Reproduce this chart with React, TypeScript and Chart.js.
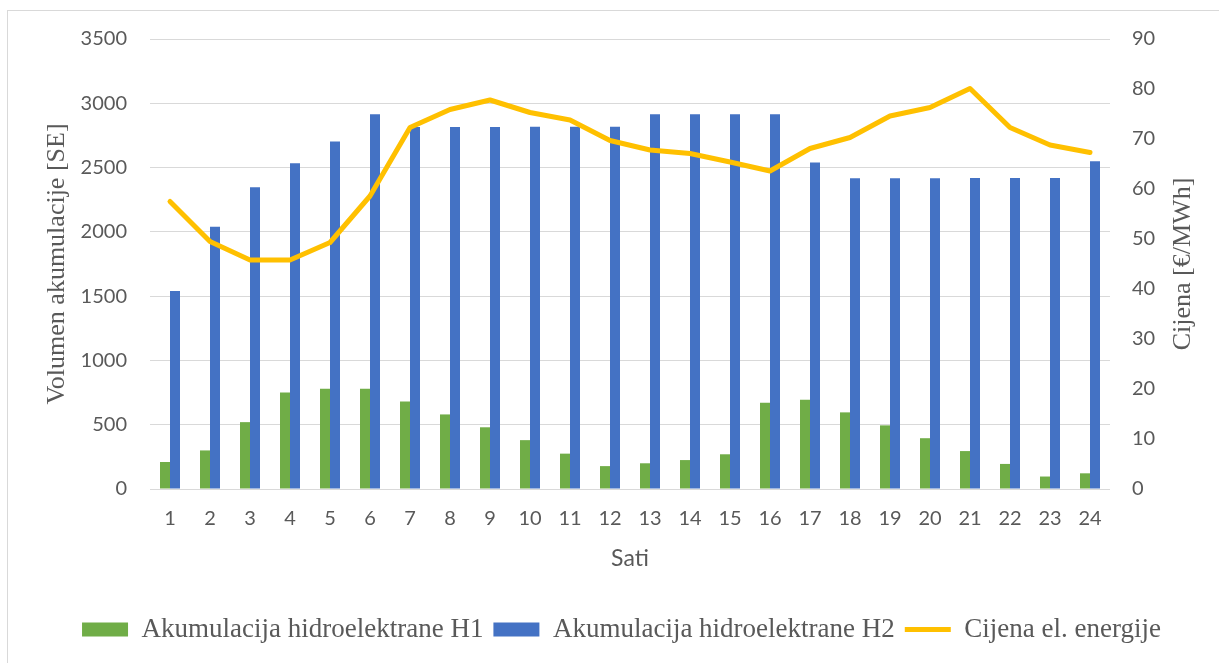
import React, { useEffect, useRef } from "react";
import { Chart, registerables } from "chart.js";

Chart.register(...registerables);

const hours = ["1","2","3","4","5","6","7","8","9","10","11","12","13","14","15","16","17","18","19","20","21","22","23","24"];
const akumulacijaH1 = [210, 300, 520, 750, 780, 780, 680, 580, 480, 380, 275, 178, 200, 225, 270, 670, 695, 596, 495, 395, 295, 195, 97, 122];
const akumulacijaH2 = [1540, 2040, 2346, 2533, 2702, 2914, 2816, 2816, 2816, 2818, 2818, 2818, 2914, 2914, 2914, 2914, 2540, 2416, 2416, 2416, 2419, 2419, 2419, 2549];
const cijena = [57.5, 49.5, 45.8, 45.8, 49.3, 58.6, 72.3, 75.9, 77.8, 75.3, 73.8, 69.7, 67.8, 67.1, 65.4, 63.6, 68.1, 70.3, 74.6, 76.3, 80.1, 72.3, 68.8, 67.3];

const seriesNames = ["Akumulacija hidroelektrane H1", "Akumulacija hidroelektrane H2", "Cijena el. energije"];
const axisTitles = { left: "Volumen akumulacije [SE]", right: "Cijena [€/MWh]", x: "Sati" };

const GREEN = "#70AD47";
const BLUE = "#4472C4";
const YELLOW = "#FFC000";
const GRID = "#D9D9D9";
const TEXT = "#595959";
const SANS = "Lato, 'Open Sans', sans-serif";
const SERIF = "'Liberation Serif', 'DejaVu Serif', serif";

const rightTitlePlugin = {
  id: "rightTitle",
  afterDraw(chart: any) {
    const { ctx, chartArea } = chart;
    ctx.save();
    ctx.font = `26px ${SERIF}`;
    ctx.fillStyle = TEXT;
    ctx.textAlign = "center";
    ctx.textBaseline = "middle";
    ctx.translate(1175, (chartArea.top + chartArea.bottom) / 2);
    ctx.rotate(-Math.PI / 2);
    ctx.fillText(axisTitles.right, 0, 0);
    ctx.restore();
  },
};

export default function App() {
  const ref = useRef<HTMLCanvasElement | null>(null);

  useEffect(() => {
    if (!ref.current) return;
    const chart = new Chart(ref.current, {
      type: "bar",
      data: {
        labels: hours,
        datasets: [
          {
            type: "bar",
            label: seriesNames[0],
            data: akumulacijaH1,
            backgroundColor: GREEN,
            borderWidth: 0,
            yAxisID: "y",
            categoryPercentage: 0.5,
            barPercentage: 1,
            pointStyle: "rect",
            order: 1,
          },
          {
            type: "bar",
            label: seriesNames[1],
            data: akumulacijaH2,
            backgroundColor: BLUE,
            borderWidth: 0,
            yAxisID: "y",
            categoryPercentage: 0.5,
            barPercentage: 1,
            pointStyle: "rect",
            order: 1,
          },
          {
            type: "line",
            label: seriesNames[2],
            data: cijena,
            borderColor: YELLOW,
            backgroundColor: YELLOW,
            borderWidth: 5,
            borderCapStyle: "round",
            borderJoinStyle: "round",
            pointRadius: 0,
            pointStyle: "line",
            tension: 0,
            yAxisID: "y1",
            order: 0,
          },
        ],
      } as any,
      options: {
        animation: false,
        responsive: false,
        layout: { padding: { top: 28, left: 16, right: 0, bottom: 10 } },
        plugins: {
          tooltip: { enabled: false },
          legend: {
            position: "bottom",
            labels: {
              usePointStyle: true,
              pointStyleWidth: 46,
              boxHeight: 14,
              padding: 10,
              color: TEXT,
              font: { family: SERIF, size: 27 },
              sort: (a: any, b: any) => a.datasetIndex - b.datasetIndex,
            },
          },
        },
        scales: {
          x: {
            grid: { display: false, drawTicks: false },
            border: { display: false },
            ticks: { color: TEXT, font: { family: SANS, size: 20 }, padding: 18, maxRotation: 0, autoSkip: false },
            title: { display: true, text: axisTitles.x, color: TEXT, font: { family: SANS, size: 23 }, padding: { top: 0, bottom: 34 } },
            afterFit: (s: any) => { s.height = 117; },
          },
          y: {
            position: "left",
            min: 0,
            max: 3500,
            ticks: { stepSize: 500, color: TEXT, font: { family: SANS, size: 20 }, padding: 23, callback: (v: any) => String(v) },
            grid: { color: GRID, lineWidth: 1, drawTicks: false },
            border: { display: false },
            title: { display: true, text: axisTitles.left, color: TEXT, font: { family: SERIF, size: 26 }, padding: { top: 18, bottom: 0 } },
            afterFit: (s: any) => { s.width = 126; s.paddingTop = 0; s.paddingBottom = 0; },
          },
          y1: {
            position: "right",
            min: 0,
            max: 90,
            ticks: { stepSize: 10, color: TEXT, font: { family: SANS, size: 20 }, padding: 22, callback: (v: any) => String(v) },
            grid: { display: false, drawTicks: false },
            border: { display: false },
            title: { display: false },
            afterFit: (s: any) => { s.width = 109; s.paddingTop = 0; s.paddingBottom = 0; },
          },
        },
      } as any,
      plugins: [rightTitlePlugin],
    });
    return () => chart.destroy();
  }, []);

  return (
    <div
      style={{
        position: "fixed",
        left: 7,
        top: 10,
        width: 1240,
        height: 680,
        borderLeft: "1px solid #D9D9D9",
        borderTop: "1px solid #D9D9D9",
        background: "#fff",
      }}
    >
      <canvas ref={ref} width={1211} height={652} style={{ display: "block" }} />
    </div>
  );
}
